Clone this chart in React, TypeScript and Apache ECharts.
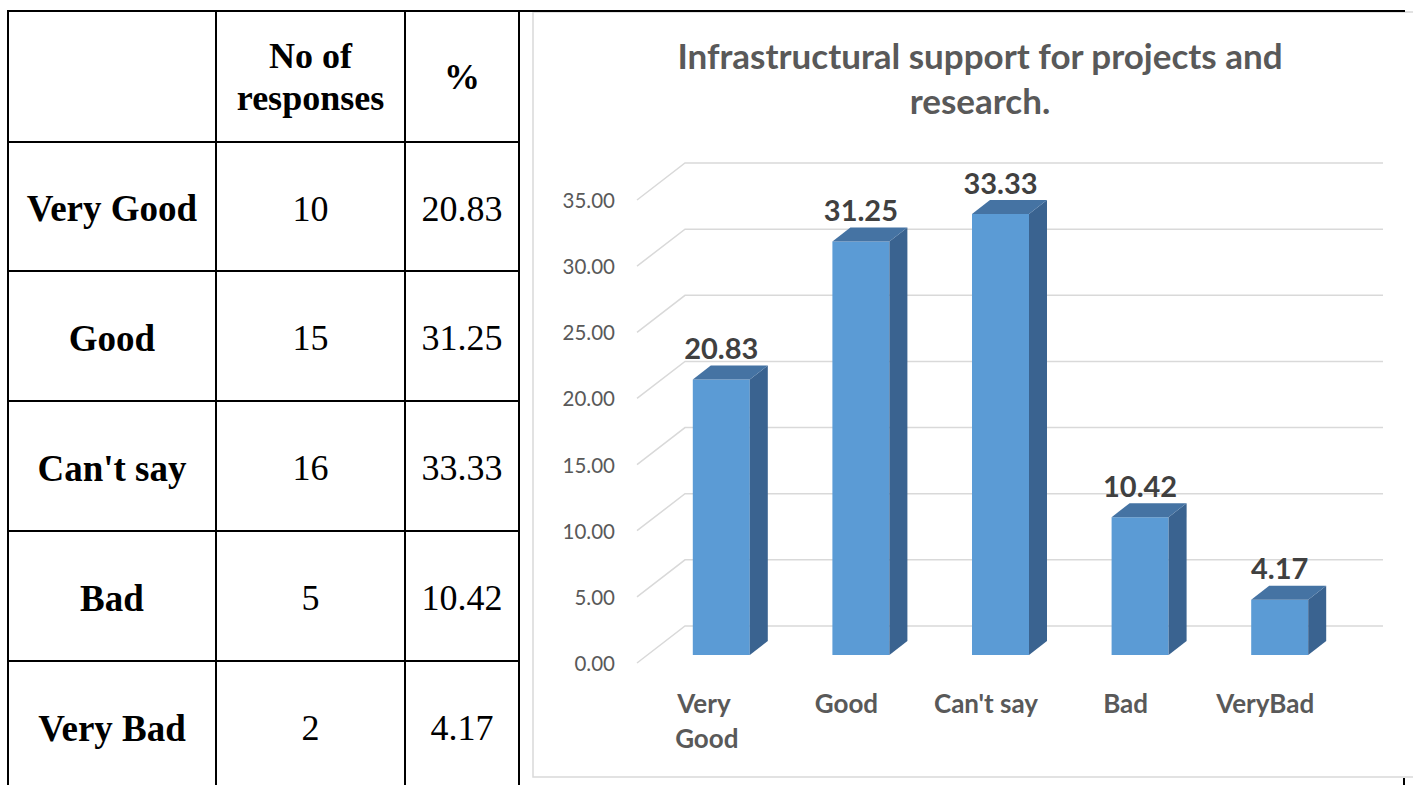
import React, { useEffect, useRef } from "react";
import * as echarts from "echarts";

// ---- data ----
const tableLabels = ["Very Good", "Good", "Can't say", "Bad", "Very Bad"];
const responses = [10, 15, 16, 5, 2];
const percents = [20.83, 31.25, 33.33, 10.42, 4.17];
const headerTexts = ["", "No of\nresponses", "%"];
const chartCategories = ["Very Good", "Good", "Can't say", "Bad", "VeryBad"];
const yTicks = [0, 5, 10, 15, 20, 25, 30, 35];
const chartTitle = "Infrastructural support for projects and\nresearch.";

// ---- layout constants ----
const colX = [8, 216, 405, 519];
const rowY = [11, 142, 271, 401, 531, 661, 791];
const SERIF = '"Liberation Serif", "Times New Roman", serif';
const SANS = 'Lato, "Open Sans", sans-serif';

function buildTableGraphics() {
  const els: any[] = [];
  const ls = { stroke: "#000", lineWidth: 2 };
  els.push({ type: "line", shape: { x1: 7, y1: 11, x2: 1405, y2: 11 }, style: ls, z: 10 });
  for (let r = 1; r < rowY.length - 1; r++) {
    els.push({ type: "line", shape: { x1: 7, y1: rowY[r], x2: 520, y2: rowY[r] }, style: ls, z: 10 });
  }
  colX.forEach((x) => {
    els.push({ type: "line", shape: { x1: x, y1: 10, x2: x, y2: 785 }, style: ls, z: 10 });
  });
  els.push({ type: "line", shape: { x1: 1404, y1: 778, x2: 1404, y2: 785 }, style: ls, z: 10 });

  const cx = (c: number) => (colX[c] + colX[c + 1]) / 2;
  const cy = (r: number) => (rowY[r] + rowY[r + 1]) / 2;
  headerTexts.forEach((t, c) => {
    if (!t) return;
    els.push({
      type: "text",
      z: 10,
      style: {
        text: t,
        x: cx(c),
        y: cy(0),
        align: "center",
        verticalAlign: "middle",
        font: `bold 36px ${SERIF}`,
        lineHeight: 42,
        fill: "#000",
      },
    });
  });
  tableLabels.forEach((lab, i) => {
    const r = i + 1;
    const cells = [lab, String(responses[i]), percents[i].toFixed(2)];
    cells.forEach((t, c) => {
      els.push({
        type: "text",
        z: 10,
        style: {
          text: t,
          x: cx(c),
          y: cy(r) + 2,
          align: "center",
          verticalAlign: "middle",
          font: c === 0 ? `bold 37px ${SERIF}` : `36px ${SERIF}`,
          fill: "#000",
        },
      });
    });
  });
  els.push({
    type: "rect",
    z: 1,
    shape: { x: 533, y: 12, width: 900, height: 765 },
    style: { fill: "transparent", stroke: "#D9D9D9", lineWidth: 1.5 },
  });
  return els;
}

const DEPTH_DX = 48;
const DEPTH_DY = 37;

export default function App() {
  const ref = useRef<HTMLDivElement>(null);
  useEffect(() => {
    if (!ref.current) return;
    const chart = echarts.init(ref.current, undefined, { renderer: "svg" });
    const n = chartCategories.length;
    chart.setOption({
      animation: false,
      backgroundColor: "#fff",
      title: {
        text: chartTitle,
        left: 980,
        top: 32,
        padding: 0,
        textAlign: "center",
        textStyle: {
          fontFamily: SANS,
          fontWeight: "bold",
          fontSize: 35,
          lineHeight: 45,
          color: "#595959",
        },
      },
      graphic: buildTableGraphics(),
      grid: { left: 637, right: 78, top: 200, bottom: 122 },
      xAxis: {
        type: "category",
        data: chartCategories,
        axisLine: { show: false },
        axisTick: { show: false },
        splitLine: { show: false },
        axisLabel: {
          margin: 22,
          color: "#595959",
          fontFamily: SANS,
          fontWeight: "bold",
          fontSize: 26,
          lineHeight: 35,
          width: 115,
          overflow: "break",
          interval: 0,
        },
      },
      yAxis: {
        type: "value",
        min: 0,
        max: 35,
        interval: 5,
        axisLine: { show: false },
        axisTick: { show: false },
        splitLine: { show: false },
        axisLabel: {
          margin: 22,
          color: "#595959",
          fontFamily: SANS,
          fontSize: 20.5,
          formatter: (v: number) => v.toFixed(2),
        },
      },
      series: [
        {
          type: "custom",
          z: 1,
          silent: true,
          data: yTicks.map((v) => [0, v]),
          renderItem: (params: any, api: any) => {
            const v = api.value(1);
            const p = api.coord([0, v]);
            const band = api.size([1, 0])[0];
            const left = p[0] - band / 2;
            const right = left + band * n;
            return {
              type: "polyline",
              shape: {
                points: [
                  [left, p[1]],
                  [left + DEPTH_DX, p[1] - DEPTH_DY],
                  [right + DEPTH_DX, p[1] - DEPTH_DY],
                ],
              },
              style: { stroke: "#D9D9D9", lineWidth: 1.5, fill: "none" },
            };
          },
        },
        {
          type: "custom",
          z: 3,
          data: percents.map((v, i) => [i, v]),
          renderItem: (params: any, api: any) => {
            const i = api.value(0);
            const v = api.value(1);
            const p = api.coord([i, v]);
            const p0 = api.coord([i, 0]);
            const w = 57;
            const dx = 18;
            const dy = 14;
            const fx = p[0] - 14;
            const top = p[1] - 8;
            const bottom = p0[1] - 8;
            return {
              type: "group",
              children: [
                {
                  type: "rect",
                  shape: { x: fx, y: top, width: w, height: bottom - top },
                  style: { fill: "#5B9BD5" },
                },
                {
                  type: "polygon",
                  shape: {
                    points: [
                      [fx + w, top],
                      [fx + w + dx, top - dy],
                      [fx + w + dx, bottom - dy],
                      [fx + w, bottom],
                    ],
                  },
                  style: { fill: "#3A6390" },
                },
                {
                  type: "polygon",
                  shape: {
                    points: [
                      [fx, top],
                      [fx + dx, top - dy],
                      [fx + w + dx, top - dy],
                      [fx + w, top],
                    ],
                  },
                  style: { fill: "#4573A3" },
                },
                {
                  type: "text",
                  style: {
                    text: v.toFixed(2),
                    x: fx + w / 2,
                    y: top - 32,
                    align: "center",
                    verticalAlign: "middle",
                    font: `bold 29px ${SANS}`,
                    fill: "#404040",
                  },
                },
              ],
            };
          },
        },
      ],
    });
    return () => chart.dispose();
  }, []);
  return (
    <div
      ref={ref}
      style={{ position: "fixed", left: 0, top: 0, width: 1413, height: 785, background: "#fff" }}
    />
  );
}
